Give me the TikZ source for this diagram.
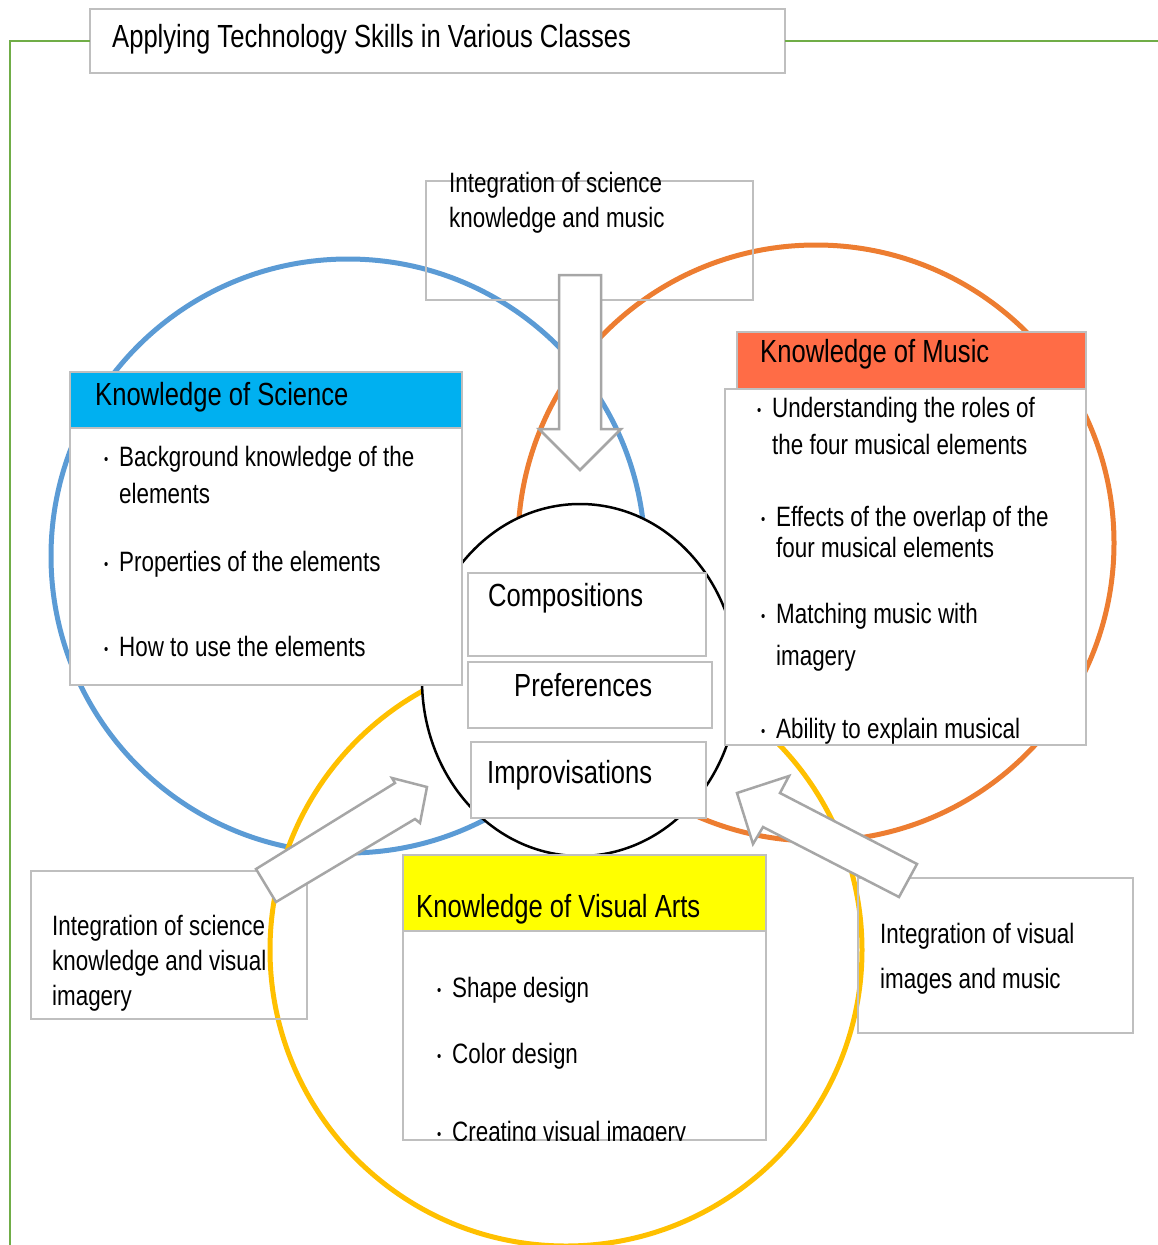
\documentclass[tikz,border=0pt]{standalone}
\usepackage{fontspec}
\setmainfont{Liberation Sans}[FakeStretch=0.8]
\usetikzlibrary{positioning}

\definecolor{sciblue}{HTML}{5B9BD5}
\definecolor{musorange}{HTML}{ED7D31}
\definecolor{artyellow}{HTML}{FFC000}
\definecolor{framegreen}{HTML}{70AD47}
\definecolor{boxgray}{HTML}{BFBFBF}
\definecolor{arrowgray}{HTML}{A6A6A6}
\definecolor{headblue}{HTML}{00B0F0}
\definecolor{headred}{HTML}{FF6C46}
\definecolor{headyellow}{HTML}{FFFF00}

\newcommand{\bul}{\makebox[0pt][r]{\raisebox{2pt}{\fontsize{15}{15}\selectfont •}\hspace{11pt}}}

\tikzset{
 box/.style={draw=boxgray, line width=2pt, inner sep=0pt, outer sep=0pt, anchor=north west},
 big/.style={inner sep=0pt, anchor=base west, font=\fontsize{32}{38}\selectfont},
 txt/.style={inner sep=0pt, anchor=base west, font=\fontsize{28}{34}\selectfont},
 ring/.style={line width=5pt},
 blockarrow/.style={draw=arrowgray, fill=white, line width=2.5pt, line join=miter}
}

\begin{document}
\begin{tikzpicture}[x=1pt,y=-1pt]
 \useasboundingbox (0,0) rectangle (1158,1245);

 % frame and title
 \node[box, minimum width=695pt, minimum height=64pt] (title) at (90,9) {};
 \node[big] (titletext) at (112,47) {Applying Technology Skills in Various Classes};
 \draw[framegreen, line width=2.5pt] (10,1245) |- (title.west);
 \draw[framegreen, line width=2.5pt] (title.east) -- (1158,41);

 % the three fields
 \draw[ring, sciblue] (348,556) circle[radius=297];
 \draw[ring, musorange] (816,543) circle[radius=298];
 \draw[ring, artyellow] (566,950) circle[radius=296];
 \draw[black, line width=2.5pt, fill=white] (580,680) ellipse[x radius=158, y radius=176];

 % science
 \node[box, fill=headblue, minimum width=392pt, minimum height=56pt] (scihead) at (70,372) {};
 \node[box, fill=white, minimum width=392pt, minimum height=257pt] (scibody) at (70,428) {};
 \node[big] (scititle) at (95,405) {Knowledge of Science};
 \node[txt] (sci1) at (119,466) {\bul Background knowledge of the};
 \node[txt] (sci1b) at (119,503) {elements};
 \node[txt] (sci2) at (119,571) {\bul Properties of the elements};
 \node[txt] (sci3) at (119,656) {\bul How to use the elements};

 % music
 \node[box, fill=headred, minimum width=349pt, minimum height=57pt] (mushead) at (737,332) {};
 \node[box, fill=white, minimum width=361pt, minimum height=356pt] (musbody) at (725,389) {};
 \node[big] (mustitle) at (760,362) {Knowledge of Music};
 \node[txt] (mus1) at (772,417) {\bul Understanding the roles of};
 \node[txt] (mus1b) at (772,454) {the four musical elements};
 \node[txt] (mus2) at (776,526) {\bul Effects of the overlap of the};
 \node[txt] (mus2b) at (776,557) {four musical elements};
 \node[txt] (mus3) at (776,623) {\bul Matching music with};
 \node[txt] (mus3b) at (776,665) {imagery};
 \node[txt] (mus4) at (776,738) {\bul Ability to explain musical};

 % outcomes
 \node[box, fill=white, minimum width=238pt, minimum height=83pt] (comp) at (468,573) {};
 \node[box, fill=white, minimum width=244pt, minimum height=66pt] (pref) at (468,662) {};
 \node[box, fill=white, minimum width=235pt, minimum height=76pt] (impr) at (471,742) {};
 \node[big] (comptext) at (488,606) {Compositions};
 \node[big] (preftext) at (514,696) {Preferences};
 \node[big] (imprtext) at (487,783) {Improvisations};

 % visual arts
 \node[box, fill=headyellow, minimum width=363pt, minimum height=76pt] (arthead) at (403,855) {};
 \node[box, fill=white, minimum width=363pt, minimum height=209pt] (artbody) at (403,931) {};
 \node[big] (arttitle) at (416,917) {Knowledge of Visual Arts};
 \node[txt] (art1) at (452,997) {\bul Shape design};
 \node[txt] (art2) at (452,1063) {\bul Color design};
 \begin{scope}
  \clip (403,931) rectangle (766,1140);
  \node[txt] (art3) at (452,1141) {\bul Creating visual imagery};
 \end{scope}

 % integrations
 \node[box, minimum width=327pt, minimum height=119pt] (scimus) at (426,181) {};
 \node[txt] (scimus1) at (449,192) {Integration of science};
 \node[txt] (scimus2) at (449,227) {knowledge and music};
 \node[box, minimum width=276pt, minimum height=148pt] (sciart) at (31,871) {};
 \node[txt] (sciart1) at (52,935) {Integration of science};
 \node[txt] (sciart2) at (52,970) {knowledge and visual};
 \node[txt] (sciart3) at (52,1005) {imagery};
 \node[box, minimum width=275pt, minimum height=155pt] (artmus) at (858,878) {};
 \node[txt] (artmus1) at (880,943) {Integration of visual};
 \node[txt] (artmus2) at (880,988) {images and music};

 % block arrows
 \draw[blockarrow] (559,275) -- (601,275) -- (601,429) -- (621,429) -- (580,470) -- (539,429) -- (559,429) -- cycle;
 \draw[blockarrow] (256,869) -- (395,783) -- (392,778) -- (427,787) -- (420,823) -- (415,819) -- (276,902) -- cycle;
 \draw[blockarrow] (737,793) -- (789,776) -- (780,793) -- (917,864) -- (899,897) -- (763,827) -- (753,844) -- cycle;
\end{tikzpicture}
\end{document}
